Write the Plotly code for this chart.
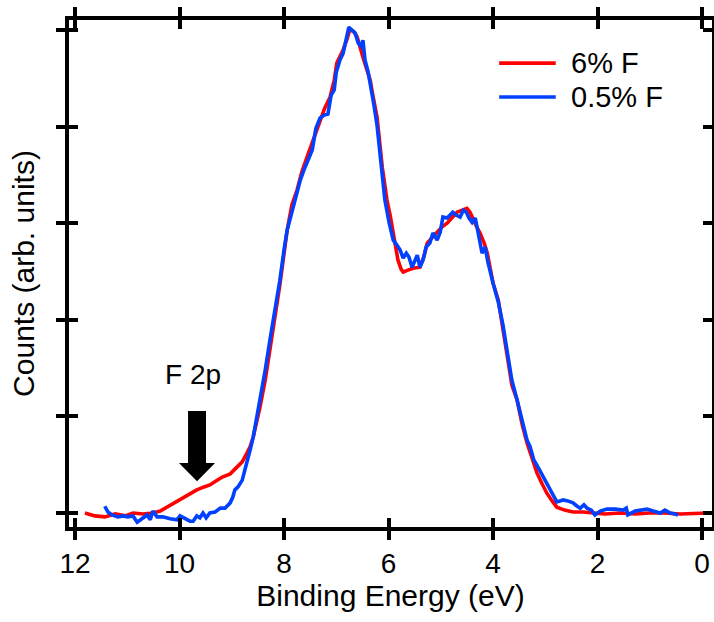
import plotly.graph_objects as go

# ---- data ----
red_x = [11.81, 11.62, 11.43, 11.23, 11.04, 10.89, 10.70, 10.51, 10.37, 10.24, 10.09, 9.93, 9.80, 9.67, 9.53,
         9.42, 9.28, 9.17, 9.03, 8.90, 8.80, 8.71, 8.65, 8.59, 8.52, 8.46, 8.36, 8.27, 8.17, 8.08, 7.94, 7.85,
         7.75, 7.66, 7.56, 7.44, 7.31, 7.22, 7.12, 7.04, 6.99, 6.87, 6.79, 6.74, 6.66, 6.60, 6.49, 6.35, 6.30,
         6.22, 6.12, 6.03, 5.97, 5.91, 5.86, 5.82, 5.76, 5.72, 5.63, 5.53, 5.40, 5.32, 5.26, 5.17, 5.07, 4.98,
         4.88, 4.78, 4.69, 4.59, 4.50, 4.44, 4.38, 4.31, 4.25, 4.17, 4.11, 4.06, 4.00, 3.90, 3.81, 3.71, 3.64,
         3.54, 3.44, 3.35, 3.25, 3.16, 3.06, 2.97, 2.87, 2.78, 2.63, 2.47, 2.28, 2.09, 1.86, 1.57, 1.28, 1.00,
         0.71, 0.42, 0.13, -0.10]
red_y = [0.000, -0.006, -0.008, -0.002, -0.006, 0.000, -0.002, 0.000, 0.004, 0.012, 0.021, 0.033, 0.039, 0.048,
         0.054, 0.058, 0.068, 0.075, 0.081, 0.095, 0.106, 0.124, 0.137, 0.157, 0.188, 0.219, 0.275, 0.337, 0.400,
         0.472, 0.586, 0.638, 0.669, 0.706, 0.737, 0.772, 0.814, 0.839, 0.861, 0.896, 0.932, 0.959, 0.983, 1.002,
         0.996, 0.986, 0.944, 0.896, 0.865, 0.820, 0.716, 0.648, 0.617, 0.580, 0.545, 0.524, 0.505, 0.499, 0.503,
         0.507, 0.509, 0.532, 0.559, 0.569, 0.580, 0.592, 0.600, 0.611, 0.623, 0.627, 0.631, 0.623, 0.607, 0.592,
         0.580, 0.559, 0.538, 0.511, 0.476, 0.441, 0.379, 0.317, 0.265, 0.234, 0.182, 0.145, 0.110, 0.083, 0.060,
         0.041, 0.025, 0.012, 0.006, 0.002, 0.002, 0.000, -0.002, 0.000, -0.002, 0.000, 0.000, -0.002, 0.000, 0.000]

blue_x = [11.43, 11.37, 11.29, 11.18, 11.08, 10.99, 10.89, 10.81, 10.72, 10.62, 10.56, 10.51, 10.43, 10.32, 10.18,
          10.05, 9.99, 9.89, 9.80, 9.74, 9.67, 9.61, 9.55, 9.49, 9.42, 9.32, 9.22, 9.13, 9.03, 8.98, 8.94, 8.88,
          8.80, 8.75, 8.71, 8.65, 8.59, 8.52, 8.46, 8.36, 8.27, 8.17, 8.08, 8.00, 7.94, 7.85, 7.77, 7.69, 7.62,
          7.54, 7.46, 7.39, 7.31, 7.23, 7.16, 7.10, 7.04, 7.00, 6.93, 6.87, 6.81, 6.76, 6.70, 6.64, 6.58, 6.53,
          6.49, 6.45, 6.39, 6.34, 6.28, 6.22, 6.14, 6.07, 5.99, 5.91, 5.84, 5.78, 5.72, 5.66, 5.61, 5.55, 5.49,
          5.45, 5.40, 5.34, 5.28, 5.21, 5.15, 5.07, 5.01, 4.96, 4.88, 4.82, 4.77, 4.71, 4.63, 4.57, 4.51, 4.46,
          4.40, 4.34, 4.29, 4.25, 4.21, 4.15, 4.10, 4.00, 3.90, 3.81, 3.71, 3.64, 3.54, 3.44, 3.35, 3.29, 3.22,
          3.14, 3.04, 2.97, 2.87, 2.78, 2.72, 2.66, 2.57, 2.47, 2.39, 2.33, 2.26, 2.20, 2.12, 2.05, 1.95, 1.82,
          1.66, 1.51, 1.45, 1.42, 1.28, 1.15, 1.05, 0.94, 0.80, 0.71, 0.61, 0.52, 0.46]
blue_y = [0.014, 0.002, -0.004, -0.008, -0.006, -0.008, -0.006, -0.019, -0.012, -0.004, -0.014, 0.004, -0.008,
          -0.008, -0.012, -0.014, -0.006, -0.012, -0.017, -0.017, -0.006, -0.010, 0.000, -0.010, 0.000, 0.002,
          0.010, 0.010, 0.021, 0.033, 0.048, 0.054, 0.068, 0.089, 0.104, 0.130, 0.157, 0.197, 0.234, 0.296, 0.358,
          0.420, 0.482, 0.545, 0.586, 0.623, 0.656, 0.689, 0.710, 0.731, 0.752, 0.797, 0.818, 0.824, 0.826, 0.865,
          0.876, 0.913, 0.938, 0.952, 0.979, 1.006, 1.000, 0.994, 0.973, 0.967, 0.979, 0.938, 0.913, 0.886, 0.845,
          0.803, 0.720, 0.648, 0.602, 0.565, 0.555, 0.545, 0.528, 0.538, 0.530, 0.509, 0.524, 0.534, 0.509, 0.524,
          0.551, 0.559, 0.580, 0.565, 0.582, 0.613, 0.611, 0.617, 0.623, 0.617, 0.613, 0.627, 0.623, 0.611, 0.602,
          0.611, 0.580, 0.565, 0.538, 0.551, 0.520, 0.476, 0.437, 0.389, 0.327, 0.275, 0.234, 0.193, 0.151, 0.137,
          0.110, 0.095, 0.075, 0.062, 0.041, 0.023, 0.025, 0.027, 0.025, 0.021, 0.014, 0.010, 0.017, 0.010, 0.006,
          -0.004, 0.004, 0.008, 0.008, 0.006, 0.010, -0.004, 0.004, 0.006, 0.008, 0.004, 0.000, 0.006, 0.000,
          -0.002, -0.004]

x_ticks = [12, 10, 8, 6, 4, 2, 0]
y_ticks = [0, 0.2, 0.4, 0.6, 0.8, 1.0]
series_names = ["6% F", "0.5% F"]
series_colors = ["#ff0000", "#0040ff"]

# annotation arrow (F 2p), data coordinates
arrow_x = [9.837, 9.493, 9.493, 9.32, 9.665, 10.01, 9.837]
arrow_y = [0.211, 0.211, 0.1035, 0.1035, 0.066, 0.1035, 0.1035]
label_x, label_y = 9.75, 0.287

X_RANGE = [12.115, -0.19]
Y_RANGE = [-0.029, 1.021]
FONT = "Liberation Sans, Arial, Helvetica, sans-serif"

fig = go.Figure()
for xs, ys, name, col in [(red_x, red_y, series_names[0], series_colors[0]),
                          (blue_x, blue_y, series_names[1], series_colors[1])]:
    fig.add_trace(go.Scatter(x=xs, y=ys, mode="lines", name=name,
                             line=dict(color=col, width=3.6), showlegend=False))

# invisible trace for the overlay axes (inside ticks)
fig.add_trace(go.Scatter(x=[None], y=[None], xaxis="x2", yaxis="y2", showlegend=False, hoverinfo="skip"))

path = "M " + " L ".join(f"{x} {y}" for x, y in zip(arrow_x, arrow_y)) + " Z"
shapes = [dict(type="path", xref="x", yref="y", path=path, fillcolor="black", line=dict(width=0))]

# manual legend
leg_rows = [0.915, 0.848]
annotations = [dict(x=label_x, y=label_y, xref="x", yref="y", text="F 2p", showarrow=False,
                    font=dict(size=28, color="black", family=FONT))]
for yy, name, col in zip(leg_rows, series_names, series_colors):
    shapes.append(dict(type="line", xref="paper", yref="paper", x0=0.669, x1=0.757, y0=yy, y1=yy,
                       line=dict(color=col, width=3.6)))
    annotations.append(dict(x=0.778, y=yy, xref="paper", yref="paper", text=name, showarrow=False,
                            xanchor="left", yanchor="middle", font=dict(size=29, color="black", family=FONT)))

axis_common = dict(showgrid=False, zeroline=False, linecolor="black", linewidth=3.5,
                   tickcolor="black", tickwidth=3.5, ticklen=9, automargin=False)

fig.update_layout(
    width=714, height=622,
    margin=dict(l=69, r=2, t=20, b=95),
    paper_bgcolor="white", plot_bgcolor="white",
    font=dict(family=FONT, color="black"),
    xaxis=dict(range=X_RANGE, tickvals=x_ticks, ticktext=[str(t) for t in x_ticks],
               ticks="outside", showline=True, mirror="ticks",
               tickfont=dict(size=28), title=dict(text="Binding Energy (eV)", font=dict(size=30), standoff=4),
               **axis_common),
    yaxis=dict(range=Y_RANGE, tickvals=y_ticks, showticklabels=False,
               ticks="outside", showline=True, mirror="ticks",
               title=dict(text="Counts (arb. units)", font=dict(size=30), standoff=14),
               **axis_common),
    xaxis2=dict(range=X_RANGE, tickvals=x_ticks, overlaying="x", ticks="inside", mirror="ticks",
                showline=False, showticklabels=False, side="bottom", **axis_common),
    yaxis2=dict(range=Y_RANGE, tickvals=y_ticks, overlaying="y", ticks="inside", mirror="ticks",
                showline=False, showticklabels=False, side="left", **axis_common),
    shapes=shapes, annotations=annotations,
)

fig.write_html("out.html", config={"displayModeBar": False},
               post_script="document.body.style.margin='0';document.body.style.overflow='hidden';")
